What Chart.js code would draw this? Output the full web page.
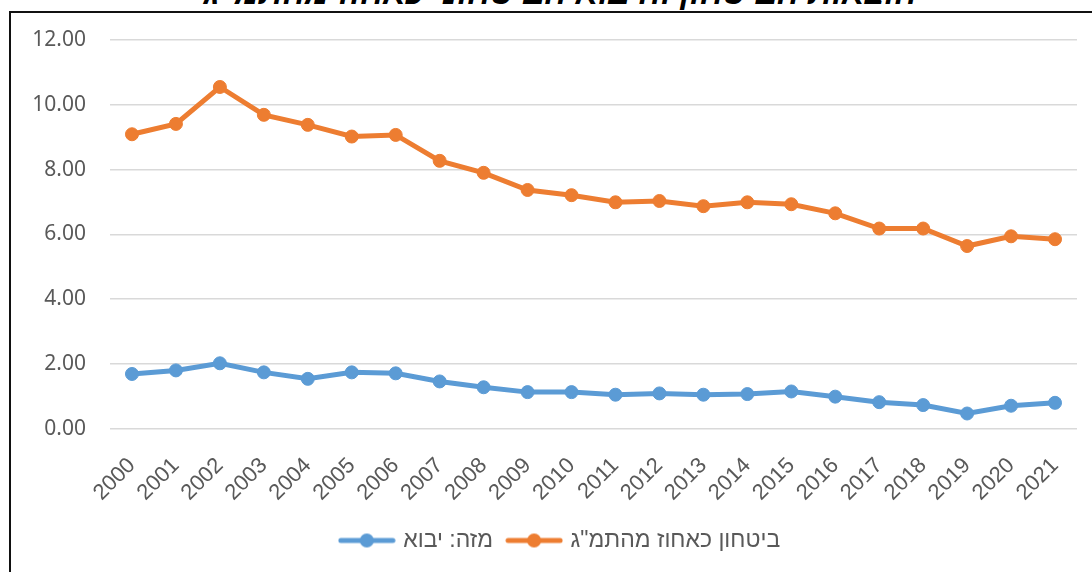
<!DOCTYPE html>
<html>
<head>
<meta charset="utf-8">
<script src="https://cdn.jsdelivr.net/npm/chart.js@4.4.1/dist/chart.umd.min.js"></script>
<style>
  html, body { margin: 0; padding: 0; background: #fff; }
  #wrap { position: relative; width: 1092px; height: 572px; overflow: hidden; }
  #title {
    position: absolute; left: 0; width: 1120px; top: -29px; text-align: center;
    font: italic bold 33px "Liberation Sans", "DejaVu Sans", sans-serif; color: #000;
    direction: rtl; line-height: 44px; white-space: nowrap;
  }
  #frame {
    position: absolute; left: 9px; top: 11px; width: 1100px; height: 600px;
    border-left: 2px solid #111; border-top: 2px solid #111; background: transparent;
  }
  #chart { position: absolute; left: 0; top: 0; }
</style>
</head>
<body>
<div id="wrap">
  <div id="title">הוצאות הביטחון והיבוא הביטחוני כאחוז מהתמ"ג</div>
  <div id="frame"></div>
  <canvas id="chart" width="1092" height="572"></canvas>
</div>
<script>
const years = ["2000","2001","2002","2003","2004","2005","2006","2007","2008","2009","2010",
  "2011","2012","2013","2014","2015","2016","2017","2018","2019","2020","2021"];
const defenseGdp = [9.09, 9.41, 10.55, 9.69, 9.38, 9.02, 9.07, 8.27, 7.90, 7.37, 7.21,
  6.99, 7.03, 6.87, 6.99, 6.93, 6.65, 6.18, 6.18, 5.64, 5.94, 5.85];
const ofWhichImport = [1.69, 1.80, 2.02, 1.74, 1.54, 1.74, 1.71, 1.46, 1.28, 1.13, 1.13,
  1.05, 1.09, 1.05, 1.07, 1.15, 0.99, 0.82, 0.73, 0.47, 0.71, 0.80];
const yTicks = [0, 2, 4, 6, 8, 10, 12];

const ORANGE = "#ED7D31";
const BLUE = "#5B9BD5";
const GREY = "#595959";

// legend swatch: line with a dot in the middle
function swatch(color) {
  const c = document.createElement("canvas");
  c.width = 58; c.height = 16;
  const g = c.getContext("2d");
  g.strokeStyle = color; g.lineWidth = 5; g.lineCap = "round";
  g.beginPath(); g.moveTo(3, 8); g.lineTo(55, 8); g.stroke();
  g.fillStyle = color;
  g.beginPath(); g.arc(29, 8, 7, 0, Math.PI * 2); g.fill();
  return c;
}
const swatches = [swatch(BLUE), swatch(ORANGE)];

// nudge the legend a bit to the right, like the original
const legendShift = {
  id: "legendShift",
  afterLayout(chart) {
    chart.legend.left += 6;
    chart.legend.right += 6;
  }
};

new Chart(document.getElementById("chart"), {
  type: "line",
  data: {
    labels: years,
    datasets: [
      { label: "מזה: יבוא", data: ofWhichImport, borderColor: BLUE, backgroundColor: BLUE,
        borderWidth: 5, pointRadius: 6.5, pointBorderWidth: 1, tension: 0 },
      { label: 'ביטחון כאחוז מהתמ"ג', data: defenseGdp, borderColor: ORANGE, backgroundColor: ORANGE,
        borderWidth: 5, pointRadius: 6.5, pointBorderWidth: 1, tension: 0 }
    ]
  },
  plugins: [legendShift],
  options: {
    responsive: false,
    animation: false,
    layout: { padding: { left: 33, right: 15, top: 40, bottom: 10 } },
    plugins: {
      tooltip: { enabled: false },
      legend: {
        position: "bottom",
        textDirection: "rtl",
        labels: {
          usePointStyle: true,
          pointStyleWidth: 50,
          padding: 16,
          color: GREY,
          font: { family: "Liberation Sans, DejaVu Sans", size: 23 },
          generateLabels(chart) {
            const items = Chart.defaults.plugins.legend.labels.generateLabels(chart);
            items.forEach((it, i) => { it.pointStyle = swatches[i]; });
            return items;
          }
        }
      }
    },
    scales: {
      x: {
        offset: true,
        grid: { display: false },
        border: { display: false },
        afterFit(axis) {
          axis.paddingLeft = 0;
          axis.paddingRight = 0;
          axis.height -= 9;
        },
        ticks: {
          color: GREY, minRotation: 45, maxRotation: 45, padding: 16,
          font: { family: "Liberation Sans", size: 22 }
        }
      },
      y: {
        min: 0, max: 12,
        afterBuildTicks(axis) { axis.ticks = yTicks.map(v => ({ value: v })); },
        afterFit(axis) { axis.width = 77; },
        grid: { color: "#d9d9d9", lineWidth: 1.5, drawTicks: false },
        border: { display: false },
        ticks: {
          color: GREY, padding: 24,
          font: { family: "Noto Sans", size: 21 },
          callback: v => Number(v).toFixed(2)
        }
      }
    }
  }
});
</script>
</body>
</html>
